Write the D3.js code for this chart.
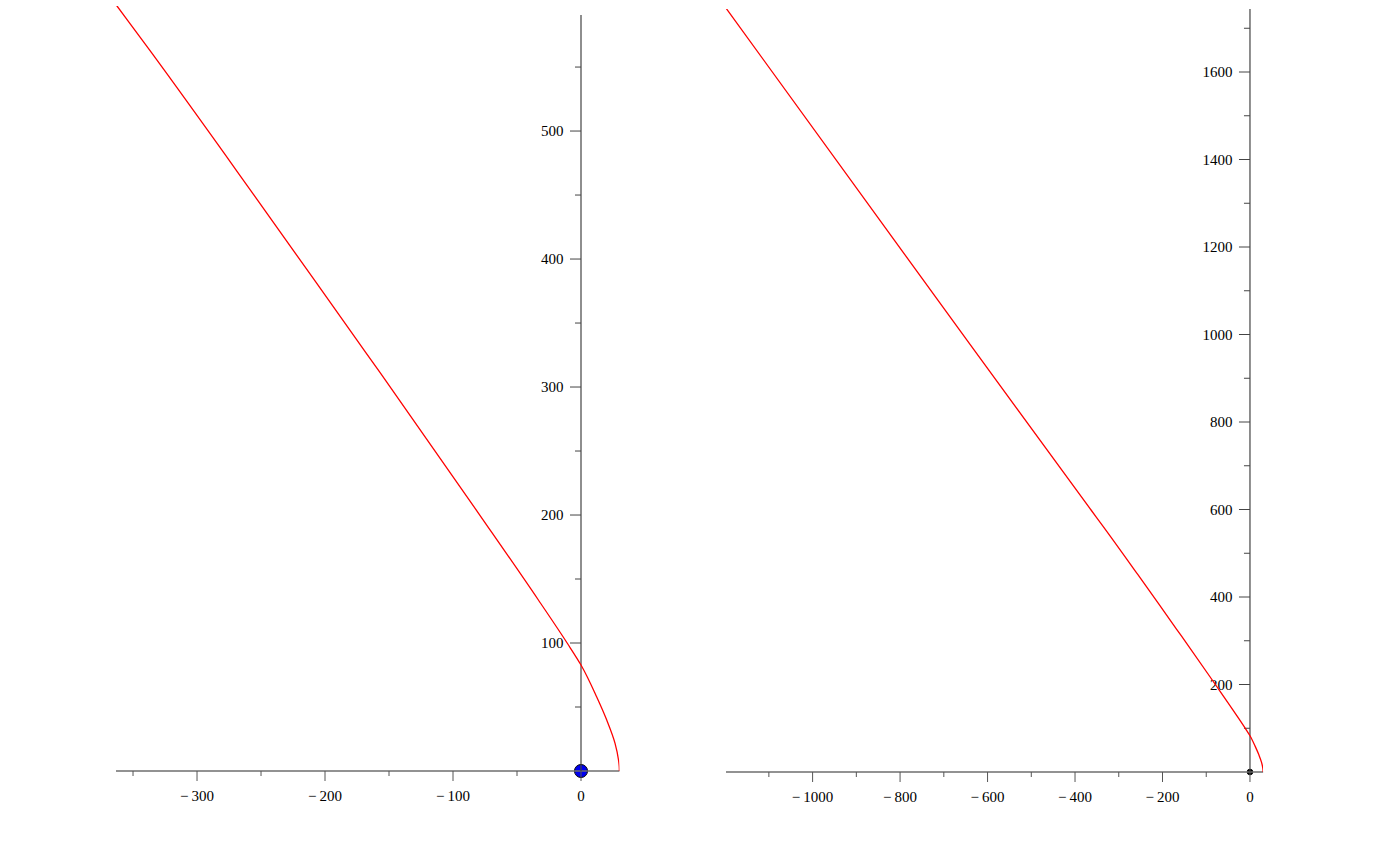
<!DOCTYPE html>
<html>
<head>
<meta charset="utf-8">
<script src="https://cdn.jsdelivr.net/npm/d3@7"></script>
<style>
    body { margin: 0; background: #fff; }
    svg { display: block; }
    text { font-family: "Liberation Serif", "Times New Roman", serif; font-size: 15px; fill: #000; }
</style>
</head>
<body>
<svg width="1393" height="850"></svg>
<script>
// curve points (x as a function of height y)
var curveX = [30, 29.85, 29.3, 26.6, 20.1, 12.2, 0, -10.7, -33.3, -79.1, -156.8, -175.3, -256.2, -335.4, -362.5, -714, -1198];
var curveY = [0, 4, 8.6, 21.6, 39.8, 58, 82.8, 99.8, 133.6, 200, 311, 337, 451, 561, 597.7, 1079, 1746];

// left plot ticks
var leftXMajor = [-300, -200, -100, 0];
var leftXMinor = [-350, -250, -150, -50];
var leftYMajor = [100, 200, 300, 400, 500];
var leftYMinor = [50, 150, 250, 350, 450, 550];

// right plot ticks
var rightXMajor = [-1000, -800, -600, -400, -200, 0];
var rightXMinor = [-1100, -900, -700, -500, -300, -100];
var rightYMajor = [200, 400, 600, 800, 1000, 1200, 1400, 1600];
var rightYMinor = [100, 300, 500, 700, 900, 1100, 1300, 1500, 1700];

var pts = curveX.map(function (d, i) { return { x: d, y: curveY[i] }; });

var svg = d3.select("svg");

function fmt(v) {
    return v < 0 ? "\u2212\u2009" + Math.abs(v) : String(v);
}

function drawPlot(opt) {
    var x = d3.scaleLinear().domain(opt.xDomain).range(opt.xRange);
    var y = d3.scaleLinear().domain(opt.yDomain).range(opt.yRange);
    var g = svg.append("g");

    g.append("clipPath").attr("id", opt.id)
        .append("rect")
        .attr("x", opt.xRange[0]).attr("y", opt.yRange[1])
        .attr("width", opt.xRange[1] - opt.xRange[0])
        .attr("height", opt.yRange[0] - opt.yRange[1]);

    // origin marker
    g.append("circle")
        .attr("cx", x(0)).attr("cy", y(0))
        .attr("r", opt.markR)
        .attr("fill", opt.markFill)
        .attr("stroke", "#000").attr("stroke-width", 1);

    // x axis
    var x0 = y(0);
    g.append("line")
        .attr("x1", opt.xRange[0]).attr("x2", opt.xRange[1])
        .attr("y1", x0).attr("y2", x0)
        .attr("stroke", "#6e6e6e").attr("stroke-width", 1.4);
    g.selectAll(".xmaj").data(opt.xMajor).enter().append("line")
        .attr("x1", d => x(d)).attr("x2", d => x(d))
        .attr("y1", x0).attr("y2", x0 + 10)
        .attr("stroke", "#555");
    g.selectAll(".xmin").data(opt.xMinor).enter().append("line")
        .attr("x1", d => x(d)).attr("x2", d => x(d))
        .attr("y1", x0).attr("y2", x0 + 5)
        .attr("stroke", "#555");
    g.selectAll(".xlab").data(opt.xMajor).enter().append("text")
        .attr("x", d => x(d)).attr("y", x0 + 30)
        .attr("text-anchor", "middle")
        .text(fmt);

    // y axis
    var y0 = x(0);
    g.append("line")
        .attr("x1", y0).attr("x2", y0)
        .attr("y1", opt.yRange[0]).attr("y2", opt.yAxisTop)
        .attr("stroke", "#444").attr("stroke-width", 1.2);
    g.selectAll(".ymaj").data(opt.yMajor).enter().append("line")
        .attr("x1", y0 - 11).attr("x2", y0)
        .attr("y1", d => y(d)).attr("y2", d => y(d))
        .attr("stroke", "#444");
    g.selectAll(".ymin").data(opt.yMinor).enter().append("line")
        .attr("x1", y0 - 6).attr("x2", y0)
        .attr("y1", d => y(d)).attr("y2", d => y(d))
        .attr("stroke", "#444");
    g.selectAll(".ylab").data(opt.yMajor).enter().append("text")
        .attr("x", y0 - 17.5).attr("y", d => y(d))
        .attr("dy", "0.34em")
        .attr("text-anchor", "end")
        .text(fmt);

    // the curve
    var line = d3.line()
        .x(d => x(d.x))
        .y(d => y(d.y))
        .curve(d3.curveMonotoneY);
    g.append("path")
        .datum(pts)
        .attr("clip-path", "url(#" + opt.id + ")")
        .attr("d", line)
        .attr("fill", "none")
        .attr("stroke", "#ff0000")
        .attr("stroke-width", 1.3);
}

drawPlot({
    id: "clipL",
    xDomain: [-363.3, 30], xRange: [116, 619.4],
    yDomain: [0, 597.7], yRange: [771, 6],
    yAxisTop: 15,
    xMajor: leftXMajor, xMinor: leftXMinor,
    yMajor: leftYMajor, yMinor: leftYMinor,
    markR: 6.5, markFill: "#0000f0"
});

drawPlot({
    id: "clipR",
    xDomain: [-1198, 30], xRange: [726, 1263.1],
    yDomain: [0, 1744], yRange: [772, 9],
    yAxisTop: 9,
    xMajor: rightXMajor, xMinor: rightXMinor,
    yMajor: rightYMajor, yMinor: rightYMinor,
    markR: 2.8, markFill: "#000"
});
</script>
</body>
</html>
